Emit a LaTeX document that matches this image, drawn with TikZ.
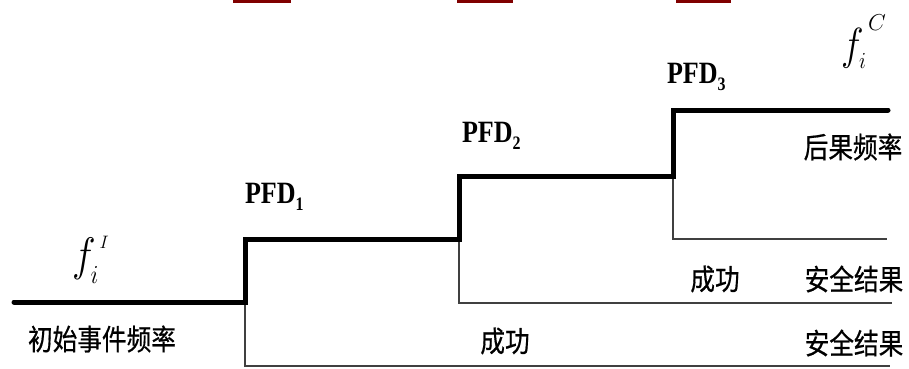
\RequirePackage{fix-cm}
\documentclass[tikz,border=0pt]{standalone}
\usepackage{fontspec}
\newfontfamily\tms{Liberation Serif}
\newfontfamily\cjk[FakeBold=0.6]{Noto Sans CJK SC}
\newcommand\fsz[1]{\fontsize{#1}{#1}\selectfont}
\begin{document}
\begin{tikzpicture}[x=1pt,y=-1pt,
  thickln/.style={line width=5pt,black,line join=miter,line cap=round},
  thinln/.style={line width=1.8pt,black!75},
  lbl/.style={inner sep=0pt,outer sep=0pt},
  cjkt/.style={lbl,anchor=center,font=\cjk\fsz{29}},
  pfd/.style={lbl,anchor=base west}]
\useasboundingbox (0,0) rectangle (909,368);
\fill[white] (0,0) rectangle (909,368);
% red bars at top
\fill[red!50!black] (233,0) rectangle (291,3);
\fill[red!50!black] (457,0) rectangle (513,3);
\fill[red!50!black] (676,0) rectangle (731,3);
% coordinates
\coordinate (s0) at (14,302);
\coordinate (a0) at (245,302);
\coordinate (a1) at (245,239);
\coordinate (a2) at (245,366);
\coordinate (a3) at (890,366);
\coordinate (b0) at (459,239);
\coordinate (b1) at (459,176);
\coordinate (b2) at (459,303);
\coordinate (b3) at (892,303);
\coordinate (c0) at (673,176);
\coordinate (c1) at (673,110);
\coordinate (c2) at (673,239);
\coordinate (c3) at (887,239);
\coordinate (e) at (888,110);
% thin branches
\draw[thinln] (a0) -- (a2) -- (a3);
\draw[thinln] (b0) -- (b2) -- (b3);
\draw[thinln] (c0) -- (c2) -- (c3);
% thick path
\draw[thickln] (s0) -- (a0) -- (a1) -- (b0) -- (b1) -- (c0) -- (c1) -- (e);
% labels
\node[pfd] (p1) at (245,203) {\scalebox{0.84}[1]{\tms\bfseries\fsz{31}PFD\raisebox{-7pt}{\fsz{19}1}}};
\node[pfd] (p2) at (462,142) {\scalebox{0.84}[1]{\tms\bfseries\fsz{31}PFD\raisebox{-7pt}{\fsz{19}2}}};
\node[pfd] (p3) at (667,83) {\scalebox{0.84}[1]{\tms\bfseries\fsz{31}PFD\raisebox{-7pt}{\fsz{19}3}}};
% f_i^I
\node[pfd] (fI) at (72,270.5) {\rlap{\scalebox{0.85}[1]{\fsz{47}$f$}}\kern18.5pt\rlap{\raisebox{-12.5pt}{\scalebox{0.9}[1]{\fsz{26}$i$}}}\kern9pt\raisebox{22.5pt}{\fsz{18}$I$}};
% f_i^C
\node[pfd] (fC) at (841,59) {\rlap{\scalebox{0.85}[1]{\fsz{45}$f$}}\kern18pt\rlap{\raisebox{-9pt}{\scalebox{0.9}[1]{\fsz{23}$i$}}}\kern9pt\raisebox{29pt}{\fsz{23}$C$}};
% CJK
\node[cjkt] (t1) at (102,339) {\scalebox{0.85}[1]{初始事件频率}};
\node[cjkt] (t2) at (505,341) {\scalebox{0.85}[1]{成功}};
\node[cjkt] (t3) at (715,279) {\scalebox{0.85}[1]{成功}};
\node[cjkt] (t4) at (854,279) {\scalebox{0.85}[1]{安全结果}};
\node[cjkt] (t5) at (854,343) {\scalebox{0.85}[1]{安全结果}};
\node[cjkt] (t6) at (853,147) {\scalebox{0.85}[1]{后果频率}};
\end{tikzpicture}
\end{document}
